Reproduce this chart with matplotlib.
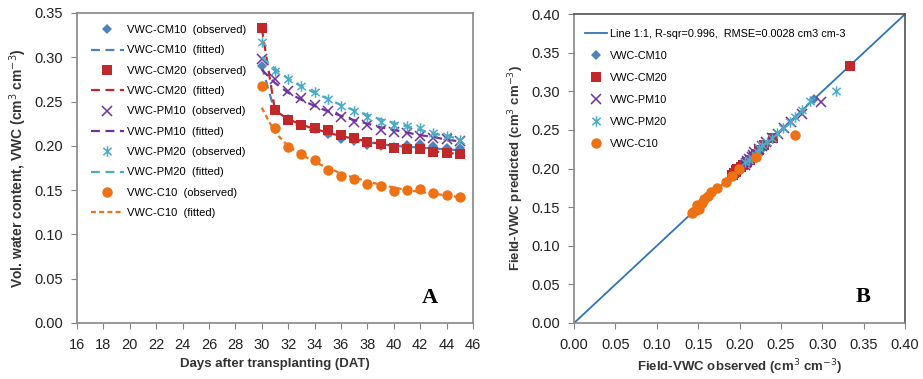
import matplotlib.pyplot as plt
import matplotlib.ticker as mticker
from matplotlib.path import Path

plt.rcParams['font.family'] = ['Liberation Sans', 'DejaVu Sans']

# jours apres repiquage
days = list(range(30, 46))

# valeurs observees (panneau A)
cm10_obs = [0.290, 0.240, 0.230, 0.224, 0.219, 0.213, 0.208, 0.205, 0.201, 0.200, 0.199, 0.201, 0.202, 0.200, 0.198, 0.197]
cm20_obs = [0.333, 0.240, 0.229, 0.224, 0.220, 0.218, 0.212, 0.209, 0.204, 0.202, 0.197, 0.196, 0.196, 0.193, 0.192, 0.191]
pm10_obs = [0.298, 0.275, 0.262, 0.254, 0.246, 0.239, 0.232, 0.227, 0.224, 0.218, 0.216, 0.215, 0.211, 0.209, 0.208, 0.206]
pm20_obs = [0.317, 0.285, 0.275, 0.267, 0.261, 0.253, 0.245, 0.239, 0.233, 0.227, 0.224, 0.222, 0.220, 0.215, 0.211, 0.207]
c10_obs = [0.267, 0.220, 0.199, 0.191, 0.184, 0.173, 0.166, 0.162, 0.157, 0.155, 0.149, 0.150, 0.151, 0.147, 0.144, 0.142]

# valeurs ajustees (courbes en pointilles)
cm10_fit = [0.290, 0.238, 0.228, 0.221, 0.216, 0.212, 0.209, 0.206, 0.204, 0.202, 0.200, 0.199, 0.198, 0.197, 0.196, 0.195]
cm20_fit = [0.333, 0.240, 0.230, 0.224, 0.219, 0.215, 0.211, 0.208, 0.205, 0.202, 0.200, 0.198, 0.196, 0.194, 0.192, 0.191]
pm10_fit = [0.286, 0.271, 0.260, 0.252, 0.245, 0.239, 0.234, 0.229, 0.225, 0.221, 0.218, 0.215, 0.212, 0.210, 0.207, 0.205]
pm20_fit = [0.300, 0.287, 0.276, 0.267, 0.260, 0.253, 0.246, 0.240, 0.235, 0.230, 0.226, 0.222, 0.218, 0.214, 0.211, 0.208]
c10_fit = [0.243, 0.215, 0.200, 0.190, 0.182, 0.175, 0.169, 0.164, 0.160, 0.156, 0.153, 0.150, 0.148, 0.146, 0.144, 0.142]

names = ['VWC-CM10', 'VWC-CM20', 'VWC-PM10', 'VWC-PM20', 'VWC-C10']
obs = [cm10_obs, cm20_obs, pm10_obs, pm20_obs, c10_obs]
fit = [cm10_fit, cm20_fit, pm10_fit, pm20_fit, c10_fit]
one_to_one = [0.0, 0.40]

# asterisque facon Excel : un x avec une barre verticale
asterisk = Path([(0, -1), (0, 1), (-0.8, -0.7), (0.8, 0.7), (-0.8, 0.7), (0.8, -0.7)],
                [Path.MOVETO, Path.LINETO, Path.MOVETO, Path.LINETO, Path.MOVETO, Path.LINETO])

colors = ['#4F81BD', '#C0282A', '#7030A0', '#4BACC6', '#EE7214']
markers = ['D', 's', 'x', asterisk, 'o']
msizes = [5, 7, 6.5, 7.5, 7.5]
lined = [False, False, True, True, False]
dashes = [(4, 2.5), (4, 2.5), (4, 2.5), (4, 2.5), (2.2, 1.5)]

grey = '#868686'

fig = plt.figure(figsize=(9.23, 3.79), dpi=100)
axA = fig.add_axes([0.0834, 0.1478, 0.429, 0.818])
axB = fig.add_axes([0.622, 0.1478, 0.3586, 0.815])

# ---- panneau A
for n, o, f, c, m, ms, ln, d in zip(names, obs, fit, colors, markers, msizes, lined, dashes):
    mew = 1.1 if ln else 0
    axA.plot(days, o, linestyle='none', marker=m, color=c, markersize=ms,
             markeredgewidth=mew, label=n + '  (observed)')
    axA.plot(days, f, linestyle=(0, d), color=c, linewidth=1.6, label=n + '  (fitted)')

axA.set_xlim(16, 46)
axA.set_ylim(0, 0.35)
axA.set_xticks(range(16, 47, 2))
axA.set_yticks([0, 0.05, 0.10, 0.15, 0.20, 0.25, 0.30, 0.35])
axA.yaxis.set_major_formatter(mticker.StrMethodFormatter('{x:.2f}'))
axA.set_xlabel('Days after transplanting (DAT)', fontsize=9.5, fontweight='bold', color='#333333')
axA.set_ylabel('Vol. water content, VWC (cm$^3$ cm$^{-3}$)', fontsize=10, fontweight='bold', color='#333333')
axA.legend(loc='upper left', bbox_to_anchor=(0.025, 0.975), frameon=False, fontsize=8,
           handlelength=2.9, handletextpad=0.3, labelspacing=0.93, borderaxespad=0)
axA.text(0.89, 0.08, 'A', transform=axA.transAxes, ha='center', va='center',
         fontsize=16, fontweight='bold', family='Liberation Serif')

# ---- panneau B
axB.plot(one_to_one, one_to_one, color='#2E75B6', linewidth=1.3,
         label='Line 1:1, R-sqr=0.996,  RMSE=0.0028 cm3 cm-3')
for n, o, f, c, m, ms, ln in zip(names, obs, fit, colors, markers, msizes, lined):
    mew = 1.1 if ln else 0
    axB.plot(o, f, linestyle='none', marker=m, color=c, markersize=ms,
             markeredgewidth=mew, label=n)

axB.set_xlim(0, 0.40)
axB.set_ylim(0, 0.40)
axB.set_xticks([i * 0.05 for i in range(9)])
axB.set_yticks([i * 0.05 for i in range(9)])
axB.xaxis.set_major_formatter(mticker.StrMethodFormatter('{x:.2f}'))
axB.yaxis.set_major_formatter(mticker.StrMethodFormatter('{x:.2f}'))
axB.set_xlabel('Field-VWC observed (cm$^3$ cm$^{-3}$)', fontsize=9.5, fontweight='bold', color='#333333')
axB.set_ylabel('Field-VWC predicted (cm$^3$ cm$^{-3}$)', fontsize=9.5, fontweight='bold', color='#333333')
axB.legend(loc='upper left', bbox_to_anchor=(0.02, 0.965), frameon=False, fontsize=7.8,
           handlelength=2.0, handletextpad=0.3, labelspacing=1.1, borderaxespad=0)
axB.text(0.873, 0.084, 'B', transform=axB.transAxes, ha='center', va='center',
         fontsize=16, fontweight='bold', family='Liberation Serif')

for ax in (axA, axB):
    for s in ax.spines.values():
        s.set_color(grey)
        s.set_linewidth(1.2)
    ax.tick_params(direction='out', length=4, color=grey, labelsize=10.5, labelcolor='#222222')
    ax.tick_params(axis='x', pad=7)
    ax.tick_params(axis='y', pad=6)
for s in ('top', 'right'):
    axB.spines[s].set_color('#505050')

plt.savefig('out.png', dpi=100)
plt.close()
